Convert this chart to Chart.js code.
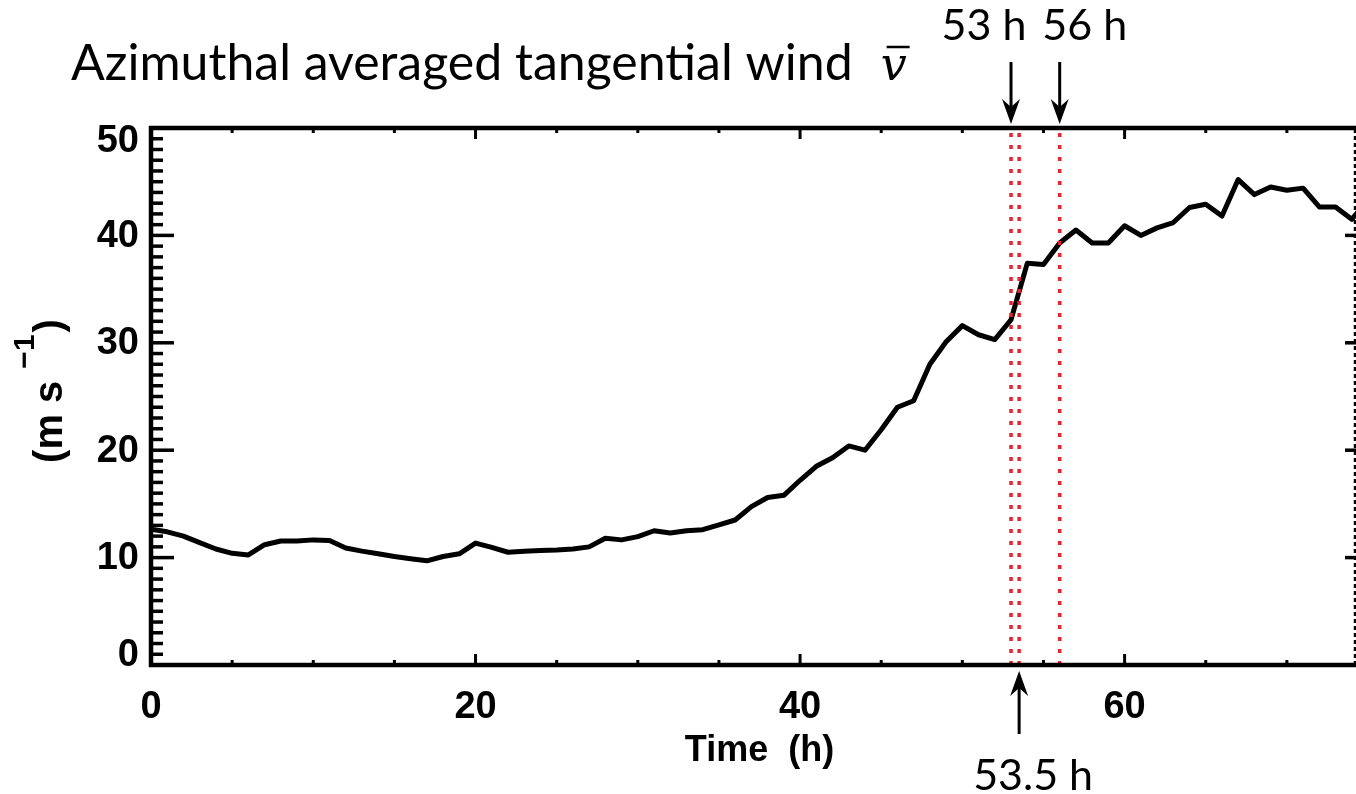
<!DOCTYPE html>
<html>
<head>
<meta charset="utf-8">
<script src="https://cdn.jsdelivr.net/npm/chart.js@4.4.1/dist/chart.umd.min.js"></script>
<style>
  html, body { margin: 0; padding: 0; background: #fff; overflow: hidden; }
  canvas { display: block; }
</style>
</head>
<body>
<canvas id="windChart" width="1380" height="794"></canvas>
<script>
// hourly azimuthal mean tangential wind (m/s)
const hours = [0, 1, 2, 3, 4, 5, 6, 7, 8, 9, 10, 11, 12, 13, 14, 15, 16, 17, 18, 19,
  20, 21, 22, 23, 24, 25, 26, 27, 28, 29, 30, 31, 32, 33, 34, 35, 36, 37, 38, 39,
  40, 41, 42, 43, 44, 45, 46, 47, 48, 49, 50, 51, 52, 53, 54, 55, 56, 57, 58, 59,
  60, 61, 62, 63, 64, 65, 66, 67, 68, 69, 70, 71, 72, 73, 74, 75];
const windSpeed = [12.65, 12.4, 12.0, 11.4, 10.8, 10.4, 10.25, 11.2, 11.55, 11.55,
  11.65, 11.6, 10.9, 10.6, 10.35, 10.1, 9.9, 9.7, 10.1, 10.35,
  11.35, 10.95, 10.5, 10.6, 10.65, 10.7, 10.8, 11.0, 11.8, 11.65,
  11.95, 12.5, 12.3, 12.5, 12.6, 13.05, 13.5, 14.75, 15.6, 15.8,
  17.2, 18.5, 19.3, 20.4, 20.0, 21.9, 24.0, 24.6, 28.0, 30.1,
  31.6, 30.75, 30.3, 32.15, 37.4, 37.3, 39.3, 40.5, 39.3, 39.3,
  40.9, 40.0, 40.7, 41.2, 42.6, 42.9, 41.8, 45.2, 43.8, 44.5,
  44.2, 44.4, 42.65, 42.65, 41.5, 43.3];

const markerHours = [53, 53.5, 56];
const markerLabels = ['53 h', '53.5 h', '56 h'];
const edgeHour = 74.2;

const xTicks = [0, 20, 40, 60];
const yTicks = [0, 10, 20, 30, 40, 50];

const RED = '#e8232d';
const TICK_FONT = 'bold 38px "Liberation Sans"';
const NOTE_FONT = '43px Lato';

function strokeLine(ctx, x1, y1, x2, y2) {
  ctx.beginPath();
  ctx.moveTo(x1, y1);
  ctx.lineTo(x2, y2);
  ctx.stroke();
}

function arrow(ctx, x, yTail, yTip) {
  const dir = Math.sign(yTip - yTail);
  ctx.lineWidth = 3;
  strokeLine(ctx, x, yTail, x, yTip - dir * 12);
  ctx.beginPath();
  ctx.moveTo(x, yTip);
  ctx.lineTo(x - 9, yTip - dir * 25);
  ctx.lineTo(x, yTip - dir * 17);
  ctx.lineTo(x + 9, yTip - dir * 25);
  ctx.closePath();
  ctx.fill();
}

const idlFrame = {
  id: 'idlFrame',
  afterDatasetsDraw(chart) {
    const { ctx, chartArea: a, scales: { x, y } } = chart;
    ctx.save();
    ctx.strokeStyle = '#000';
    ctx.fillStyle = '#000';

    // inward ticks, IDL style
    ctx.lineWidth = 3.5;
    for (let v = 0; v <= 50; v += 1) {
      const py = y.getPixelForValue(v);
      const len = v % 10 === 0 ? 23 : 12;
      strokeLine(ctx, a.left, py, a.left + len, py);
      strokeLine(ctx, a.right, py, a.right - len, py);
    }
    ctx.lineWidth = 3;
    for (let t = 0; t <= 75; t += 5) {
      const px = x.getPixelForValue(t);
      const len = t % 20 === 0 ? 11 : 5;
      strokeLine(ctx, px, a.bottom, px, a.bottom - len);
      strokeLine(ctx, px, a.top, px, a.top + len);
    }
    ctx.lineWidth = 4.5;
    ctx.strokeRect(a.left, a.top, a.right - a.left, a.bottom - a.top);

    // y tick labels (end labels pulled inside like IDL)
    ctx.font = TICK_FONT;
    ctx.textAlign = 'right';
    ctx.textBaseline = 'middle';
    yTicks.forEach((v) => {
      let py = y.getPixelForValue(v);
      py = Math.min(Math.max(py, a.top + 13), a.bottom - 10);
      ctx.fillText(String(v), a.left - 12, py + 1);
    });

    // y title (m s^-1), rotated
    ctx.save();
    ctx.translate(62, 392);
    ctx.rotate(-Math.PI / 2);
    ctx.textAlign = 'left';
    ctx.textBaseline = 'alphabetic';
    ctx.font = 'bold 40px "Liberation Sans"';
    const w1 = ctx.measureText('(m s').width;
    const wc = ctx.measureText(')').width;
    ctx.font = 'bold 30px "Liberation Sans"';
    const ws = ctx.measureText('\u22121').width;
    const gap = 12;
    const sx = -(w1 + gap + ws + wc) / 2;
    ctx.font = 'bold 40px "Liberation Sans"';
    ctx.fillText('(m s', sx, 0);
    ctx.font = 'bold 30px "Liberation Sans"';
    ctx.fillText('\u22121', sx + w1 + gap, -28);
    ctx.font = 'bold 40px "Liberation Sans"';
    ctx.fillText(')', sx + w1 + gap + ws + 2, 0);
    ctx.restore();

    // chart title
    ctx.textAlign = 'left';
    ctx.textBaseline = 'alphabetic';
    ctx.font = '50px Lato';
    const titleText = 'Azimuthal averaged tangential wind';
    ctx.fillText(titleText, 71, 80);
    const vx = 71 + ctx.measureText(titleText).width + 28;
    ctx.font = 'italic 46px "DejaVu Serif"';
    ctx.fillText('v', vx, 80);
    const vw = ctx.measureText('v').width;
    ctx.lineWidth = 2.5;
    strokeLine(ctx, vx + 6, 47, vx + vw + 3, 47);

    // marker annotations
    ctx.font = NOTE_FONT;
    ctx.textAlign = 'center';
    markerHours.forEach((h, i) => {
      const px = x.getPixelForValue(h);
      const label = markerLabels[i];
      if (i === 1) {
        arrow(ctx, px, 734, a.bottom + 6);
        ctx.fillText(label, px + 14, 790);
      } else {
        arrow(ctx, px, 62, a.top - 4);
        ctx.fillText(label, px + (i === 0 ? -27 : 25), 40);
      }
    });
    ctx.restore();
  }
};

function draw() {
  const lineOf = (h) => [{ x: h, y: 0 }, { x: h, y: 50 }];
  new Chart(document.getElementById('windChart'), {
    type: 'line',
    data: {
      datasets: [
        ...markerHours.map((h) => ({
          data: lineOf(h),
          borderColor: RED,
          borderWidth: 3.5,
          borderDash: [4, 8],
          pointRadius: 0,
          order: 0
        })),
        {
          data: lineOf(edgeHour),
          borderColor: '#000',
          borderWidth: 2.5,
          borderDash: [4, 3],
          pointRadius: 0,
          order: 0
        },
        {
          data: hours.map((h, i) => ({ x: h, y: windSpeed[i] })),
          borderColor: '#000',
          borderWidth: 5,
          borderJoinStyle: 'round',
          borderCapStyle: 'round',
          pointRadius: 0,
          tension: 0,
          order: 1
        }
      ]
    },
    options: {
      responsive: false,
      animation: false,
      events: [],
      layout: { padding: { top: 128, right: 12, left: 0, bottom: 0 } },
      plugins: { legend: { display: false }, tooltip: { enabled: false } },
      scales: {
        x: {
          type: 'linear',
          min: 0,
          max: 75,
          afterBuildTicks: (s) => { s.ticks = xTicks.map((v) => ({ value: v })); },
          afterFit: (s) => { s.height = 129; },
          grid: { display: false, drawTicks: false },
          border: { display: false },
          ticks: {
            color: '#000',
            font: { family: 'Liberation Sans', weight: 'bold', size: 38 },
            padding: 20,
            maxRotation: 0
          },
          title: {
            display: true,
            text: 'Time  (h)',
            color: '#000',
            font: { family: 'Liberation Sans', weight: 'bold', size: 36 },
            padding: { top: 0, bottom: 21 }
          }
        },
        y: {
          min: 0,
          max: 50,
          afterBuildTicks: (s) => { s.ticks = yTicks.map((v) => ({ value: v })); },
          afterFit: (s) => { s.width = 151; },
          grid: { display: false, drawTicks: false },
          border: { display: false },
          ticks: { display: false }
        }
      }
    },
    plugins: [idlFrame]
  });
}

Promise.all([
  document.fonts.load('50px Lato'),
  document.fonts.load('bold 38px "Liberation Sans"'),
  document.fonts.load('italic 46px "DejaVu Serif"')
]).then(draw, draw);
</script>
</body>
</html>
